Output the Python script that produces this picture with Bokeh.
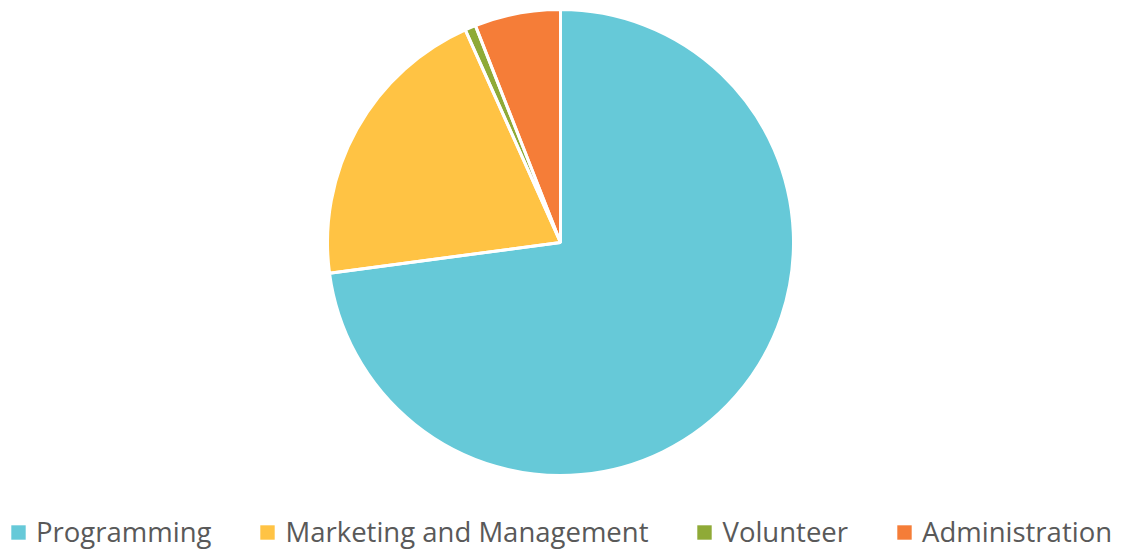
import math
from bokeh.plotting import figure
from bokeh.models import Range1d, Legend, LegendItem, ColumnDataSource
from bokeh.embed import file_html
from bokeh.resources import INLINE

categories = ["Programming", "Marketing and Management", "Volunteer", "Administration"]
values = [72.9, 20.4, 0.75, 5.95]
colors = ["#66C9D8", "#FFC344", "#8FAA37", "#F57D38"]

W, H = 1137, 552
p = figure(width=W, height=H, output_backend="svg", toolbar_location=None,
           x_range=Range1d(0, W), y_range=Range1d(0, H), min_border=0)
p.axis.visible = False
p.grid.visible = False
p.outline_line_color = None

total = sum(values)
cx, cy, r = 560, H - 242, 233
starts, ends = [], []
acc = 0.0
for v in values:
    a0 = math.pi / 2 - 2 * math.pi * acc / total
    acc += v
    a1 = math.pi / 2 - 2 * math.pi * acc / total
    starts.append(a1)
    ends.append(a0)

src = ColumnDataSource(dict(x=[cx] * 4, y=[cy] * 4, start=starts, end=ends, color=colors, cat=categories))
fill_r = p.wedge(x="x", y="y", radius=r, radius_units="screen", start_angle="start", end_angle="end",
                 fill_color="color", line_color=None, source=src)
p.wedge(x="x", y="y", radius=r, radius_units="screen", start_angle="start", end_angle="end",
        fill_color=None, line_color="white", line_width=3, source=src)

items = [LegendItem(label=c, renderers=[fill_r], index=i) for i, c in enumerate(categories)]

legend = Legend(items=items, orientation="horizontal", location=(9, 2),
                glyph_width=18, glyph_height=18, label_standoff=9, spacing=47,
                padding=0, margin=0, border_line_color=None, background_fill_alpha=0,
                label_text_font="Open Sans", label_text_font_size="27.5px", label_text_color="#595959",
                label_height=30)
p.add_layout(legend, "center")

open("out.html", "w").write(file_html(p, INLINE))
